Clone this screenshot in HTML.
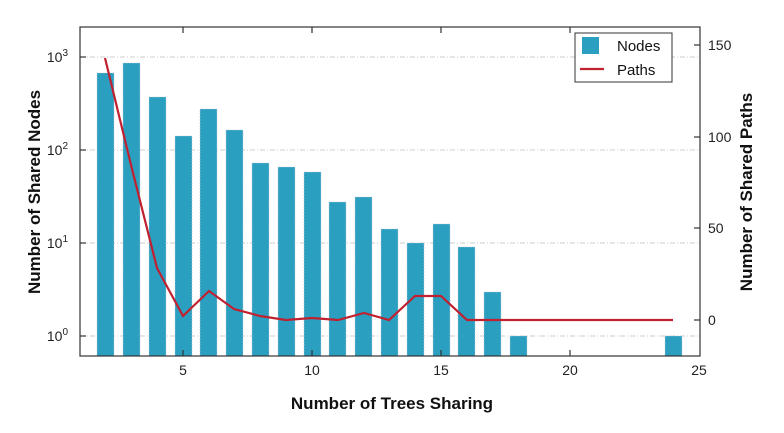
<!DOCTYPE html>
<html><head><meta charset="utf-8"><style>body{margin:0;background:#fff}svg{display:block}text{font-family:"Liberation Sans",Arial,sans-serif}</style></head><body>
<svg width="784" height="433" viewBox="0 0 784 433" xmlns="http://www.w3.org/2000/svg">
<g stroke="#ccc" stroke-dasharray="5,2,1,2" stroke-width="1">
<line x1="80" x2="700" y1="57" y2="57"/><line x1="80" x2="700" y1="150" y2="150"/><line x1="80" x2="700" y1="243" y2="243"/><line x1="80" x2="700" y1="336" y2="336"/>
</g>
<g fill="#2a9fbf" stroke="#bcd" stroke-width="0.6" stroke-dasharray="2,1">
<rect x="97" y="73" width="17" height="283"/>
<rect x="123" y="63" width="17" height="293"/>
<rect x="149" y="97" width="17" height="259"/>
<rect x="175" y="136" width="17" height="220"/>
<rect x="200" y="109" width="17" height="247"/>
<rect x="226" y="130" width="17" height="226"/>
<rect x="252" y="163" width="17" height="193"/>
<rect x="278" y="167" width="17" height="189"/>
<rect x="304" y="172" width="17" height="184"/>
<rect x="329" y="202" width="17" height="154"/>
<rect x="355" y="197" width="17" height="159"/>
<rect x="381" y="229" width="17" height="127"/>
<rect x="407" y="243" width="17" height="113"/>
<rect x="433" y="224" width="17" height="132"/>
<rect x="458" y="247" width="17" height="109"/>
<rect x="484" y="292" width="17" height="64"/>
<rect x="510" y="336" width="17" height="20"/>
<rect x="665" y="336" width="17" height="20"/>
</g>
<polyline fill="none" stroke="#c0202f" stroke-width="2.2" points="105,58 131,165 157,268 183,316 209,291 234,309 260,316 286,320 312,318 338,320 364,313 389,320 415,296 441,296 467,320 673,320"/>
<rect x="80" y="27" width="620" height="329" fill="none" stroke="#333" stroke-width="1.2"/>
<g stroke="#333" stroke-width="1.2">
<line x1="183" y1="356" x2="183" y2="350"/><line x1="312" y1="356" x2="312" y2="350"/><line x1="441" y1="356" x2="441" y2="350"/><line x1="570" y1="356" x2="570" y2="350"/>
<line x1="183" y1="27" x2="183" y2="33"/><line x1="312" y1="27" x2="312" y2="33"/><line x1="441" y1="27" x2="441" y2="33"/><line x1="570" y1="27" x2="570" y2="33"/>
<line x1="80" y1="57" x2="86" y2="57"/><line x1="80" y1="150" x2="86" y2="150"/><line x1="80" y1="243" x2="86" y2="243"/><line x1="80" y1="336" x2="86" y2="336"/>
<line x1="700" y1="45" x2="694" y2="45"/><line x1="700" y1="137" x2="694" y2="137"/><line x1="700" y1="228" x2="694" y2="228"/><line x1="700" y1="320" x2="694" y2="320"/>
</g>
<g font-size="14" fill="#222" text-anchor="middle">
<text x="183" y="375">5</text><text x="312" y="375">10</text><text x="441" y="375">15</text><text x="570" y="375">20</text><text x="699" y="375">25</text>
</g>
<g font-size="14" fill="#222" text-anchor="end">
<text x="68" y="62">10<tspan font-size="10" dy="-6">3</tspan></text>
<text x="68" y="155">10<tspan font-size="10" dy="-6">2</tspan></text>
<text x="68" y="248">10<tspan font-size="10" dy="-6">1</tspan></text>
<text x="68" y="341">10<tspan font-size="10" dy="-6">0</tspan></text>
</g>
<g font-size="14" fill="#222">
<text x="708" y="50">150</text><text x="708" y="142">100</text><text x="708" y="233">50</text><text x="708" y="325">0</text>
</g>
<text x="392" y="409" font-size="17" font-weight="bold" text-anchor="middle" fill="#111">Number of Trees Sharing</text>
<text transform="translate(40,192) rotate(-90)" font-size="17" font-weight="bold" text-anchor="middle" fill="#111">Number of Shared Nodes</text>
<text transform="translate(752,192) rotate(-90)" font-size="17" font-weight="bold" text-anchor="middle" fill="#111">Number of Shared Paths</text>
<rect x="575" y="33" width="97" height="49" fill="#fff" stroke="#333" stroke-width="1"/>
<rect x="582" y="37" width="17" height="17" fill="#2a9fbf"/>
<text x="617" y="51" font-size="15" fill="#111">Nodes</text>
<line x1="580" y1="69" x2="604" y2="69" stroke="#c0202f" stroke-width="2.2"/>
<text x="617" y="75" font-size="15" fill="#111">Paths</text>
</svg>
</body></html>
